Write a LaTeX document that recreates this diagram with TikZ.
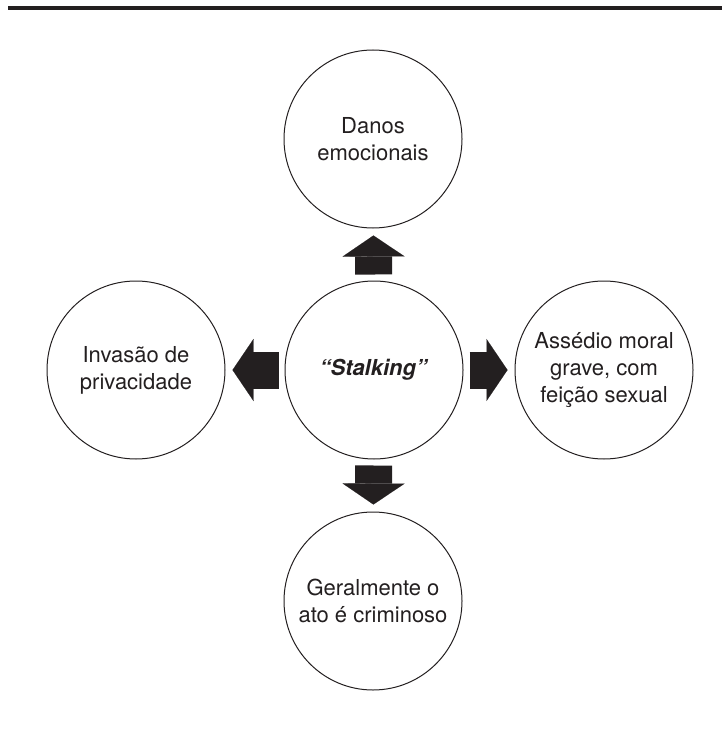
\documentclass[tikz,border=0pt]{standalone}
\usepackage{fontspec}
\setmainfont{TeX Gyre Heros}
\usetikzlibrary{arrows.meta}
\definecolor{ink}{HTML}{231F20}

\begin{document}
\begin{tikzpicture}[x=1pt, y=-1pt,
    every node/.style={font=\fontsize{22}{27}\selectfont, text=ink},
    topic/.style={draw=ink, line width=1pt, circle, minimum size=178pt,
                  inner sep=0pt, align=center},
    blockarrow/.style={ink, line width=37pt,
                  -{Triangle[length=21pt, width=62pt, line width=0.1pt]},
                  shorten <=6pt, shorten >=7pt}]
  \useasboundingbox (0,0) rectangle (722,733);
  % rule at the top
  \fill[ink] (8,6) rectangle (722,10);
  % circles
  \node[topic] (stalk) at (374,370) {\textbf{\textit{``Stalking''}}};
  \node[topic] (danos) at (373,139) {Danos\\emocionais};
  \node[topic] (crime) at (373,601) {Geralmente o\\ato é criminoso};
  \node[topic] (invasao) at (136,370) {Invasão de\\privacidade};
  \node[topic] (assedio) at (604,370) {Assédio moral\\grave, com\\feição sexual};
  % block arrows
  \draw[blockarrow] (stalk) -- (danos);
  \draw[blockarrow] (stalk) -- (crime);
  \draw[blockarrow] (stalk) -- (invasao);
  \draw[blockarrow] (stalk) -- (assedio);
\end{tikzpicture}
\end{document}
